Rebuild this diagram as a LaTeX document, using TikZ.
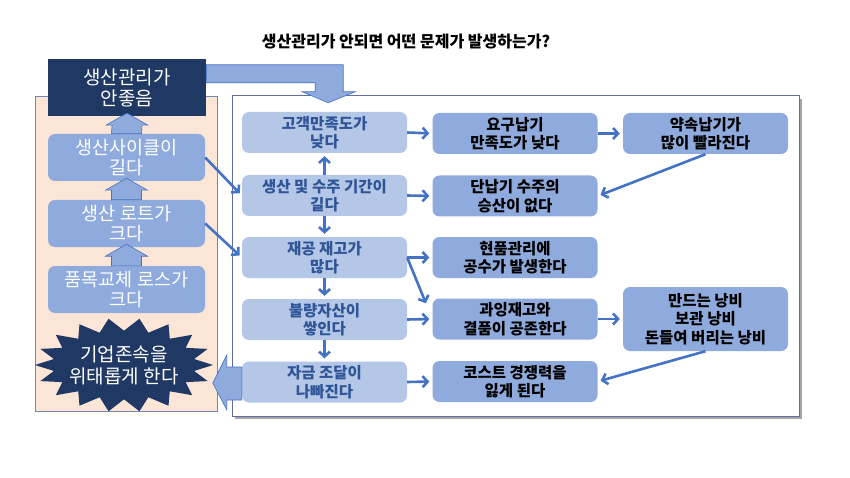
\documentclass[tikz,border=0pt]{standalone}
\usepackage{fontspec}
\setmainfont{Noto Sans CJK KR}
\usetikzlibrary{arrows.meta,calc}
\definecolor{navy}{HTML}{1F3864}
\definecolor{midblue}{HTML}{8FAADC}
\definecolor{lightblue}{HTML}{B4C7E7}
\definecolor{peach}{HTML}{FBE5D6}
\definecolor{arrowblue}{HTML}{4472C4}
\definecolor{textblue}{HTML}{2F5597}
\definecolor{panelline}{HTML}{5F6E9E}
\newcommand{\blockup}[2]{%
  \draw[blockarrow] ($(#1.north)+(-15,0)$) -- ($(#2.south)+(-15,9)$) -- ($(#2.south)+(-21,9)$)
    -- ($(#2.south)+(0,-3)$) -- ($(#2.south)+(21,9)$) -- ($(#2.south)+(15,9)$)
    -- ($(#1.north)+(15,0)$) -- cycle;}
\begin{document}
\begin{tikzpicture}[x=1pt, y=-1pt,
    every node/.style={align=center, inner sep=2pt},
    leftbox/.style={rounded corners=7pt, fill=midblue, text=white, minimum width=157pt, minimum height=47pt, font=\fontsize{18.5}{20}\selectfont},
    causebox/.style={rounded corners=7pt, fill=lightblue, text=textblue, minimum width=165pt, minimum height=41pt, font=\bfseries\fontsize{15.5}{18.5}\selectfont},
    effectbox/.style={rounded corners=7pt, fill=midblue, text=black, minimum width=165pt, minimum height=41pt, font=\bfseries\fontsize{15.5}{18.5}\selectfont},
    flow/.style={draw=arrowblue, line width=2.6pt, -{Straight Barb[length=5pt, width=11pt]}, shorten >=3pt},
    blockarrow/.style={fill=midblue, draw=arrowblue, line width=0.6pt}]
    \useasboundingbox (0,0) rectangle (850,478);

    % Title
    \node[font=\bfseries\fontsize{16}{18}\selectfont] (title) at (406,42) {생산관리가 안되면 어떤 문제가 발생하는가?};

    % Panels
    \fill[black!35] (235,99) rectangle (802,419);
    \draw[panelline, fill=white, line width=1pt] (232,96) rectangle (799,416);
    \draw[midblue!80!black, fill=peach, line width=0.8pt] (35,96) rectangle (217,411);

    % Left column
    \node[fill=navy, text=white, minimum width=158pt, minimum height=57pt, font=\fontsize{19}{21}\selectfont] (bad) at (127,87.5) {생산관리가\\안좋음};
    \node[leftbox] (cycle) at (126.5,157.5) {생산사이클이\\길다};
    \node[leftbox] (lot) at (126.5,223.5) {생산 로트가\\크다};
    \node[leftbox] (loss) at (126.5,289.5) {품목교체 로스가\\크다};
    \blockup{cycle}{bad}
    \blockup{lot}{cycle}
    \blockup{loss}{lot}

    % Starburst
    \fill[navy] (213,365) \foreach \k in {1,...,35} {
        -- ({124+(1-mod(\k,2)*0.2)*89*cos(\k*10)}, {365+(1-mod(\k,2)*0.27)*47*sin(\k*10)}) } -- cycle;
    \node[text=white, font=\fontsize{19}{22}\selectfont] (risk) at (124,365) {기업존속을\\위태롭게 한다};

    % Causes
    \node[causebox] (satisfy) at (324.5,132.5) {고객만족도가\\낮다};
    \node[causebox] (lead) at (324.5,195.5) {생산 및 수주 기간이\\길다};
    \node[causebox] (wip) at (324.5,257.5) {재공 재고가\\많다};
    \node[causebox] (defect) at (324.5,319.5) {불량자산이\\쌓인다};
    \node[causebox] (funds) at (324.5,382) {자금 조달이\\나빠진다};

    % Effects
    \node[effectbox] (due) at (515,133.5) {요구납기\\만족도가 낮다};
    \node[effectbox] (short) at (515,196) {단납기 수주의\\승산이 없다};
    \node[effectbox] (handle) at (515,257.5) {현품관리에\\공수가 발생한다};
    \node[effectbox] (excess) at (515,319) {과잉재고와\\결품이 공존한다};
    \node[effectbox] (cost) at (515,381.5) {코스트 경쟁력을\\잃게 된다};
    \node[effectbox] (promise) at (705.5,133.5) {약속납기가\\많이 빨라진다};
    \node[effectbox, minimum height=64pt] (waste) at (705.5,319) {만드는 낭비\\보관 낭비\\돈들여 버리는 낭비};

    % Block arrows
    \draw[blockarrow] ($(bad.north east)+(0,6)$) -- ++(137,0) -- ++(0,27) -- ++(12,0) -- ++(-27,11)
        -- ++(-26,-11) -- ++(13,0) -- ++(0,-9) -- ++(-109,0) -- cycle;
    \draw[blockarrow] ($(funds.west)+(0,-15)$) -- ++(-15,0) -- ++(0,-12) -- ++(-14,28)
        -- ++(14,27) -- ++(0,-10) -- ++(15,0) -- cycle;

    % Flow arrows
    \draw[flow] (cycle.east) -- (lead.west);
    \draw[flow] (lot.east) -- (wip.west);
    \draw[flow] (lead.north) -- (satisfy.south);
    \draw[flow] (lead.south) -- (wip.north);
    \draw[flow] (wip.south) -- (defect.north);
    \draw[flow] (defect.south) -- (funds.north);
    \draw[flow] (satisfy.east) -- (due.west);
    \draw[flow] (lead.east) -- (short.west);
    \draw[flow] (wip.east) -- (handle.west);
    \draw[flow, shorten >=17pt] (wip.east) -- (excess.west);
    \draw[flow] (defect.east) -- (excess.west);
    \draw[flow] (funds.east) -- (cost.west);
    \draw[flow] (due.east) -- (promise.west);
    \draw[flow] (promise.south) -- (short.east);
    \draw[flow] (excess.east) -- (waste.west);
    \draw[flow] (waste.south) -- (cost.east);
\end{tikzpicture}
\end{document}
